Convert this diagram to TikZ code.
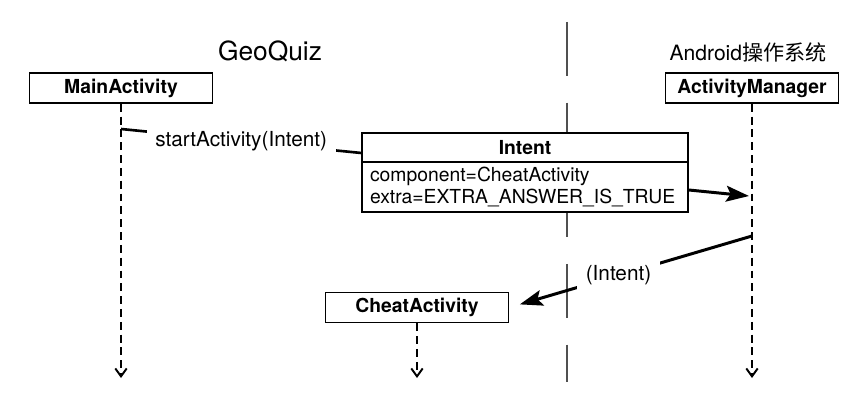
\documentclass[tikz,border=0pt]{standalone}
\usepackage{fontspec}
\setmainfont{TeX Gyre Heros}
\newfontfamily\cjk{Noto Sans CJK SC}
\usepackage{tikz}
\definecolor{divgray}{RGB}{80,80,80}
\usetikzlibrary{arrows.meta}

\begin{document}
\begin{tikzpicture}[x=0.02cm, y=-0.02cm,
    box/.style={rectangle, draw=black, line width=0.9pt, fill=white,
                minimum width=3.66cm, minimum height=0.6cm, inner sep=0pt,
                font=\fontsize{11}{13}\selectfont\bfseries},
    arr/.style={-{Stealth[length=13pt, width=9pt, inset=2.5pt]}, line width=1.7pt},
    msg/.style={line width=1.5pt},
    life/.style={-{Straight Barb[length=4.5pt, width=6.5pt]}, line width=1.1pt,
                 dash pattern=on 4.5pt off 2.8pt},
    note/.style={fill=white, inner sep=5pt, font=\fontsize{11.8}{13}\selectfont},
    div/.style={draw=divgray, line width=1.4pt, dash pattern=on 30.6pt off 15.3pt}
]
    \useasboundingbox (0,0) rectangle (859,405);

    % app / system divider
    \coordinate (div-top) at (567,22);
    \coordinate (div-bot) at (567,382);
    \draw[div] (div-top) -- (div-bot);

    \node[font=\fontsize{15}{18}\selectfont] (geoquiz) at (270,51) {GeoQuiz};
    \node[font=\fontsize{12}{14}\selectfont] (android) at (748,52) {Android{\cjk 操作系统}};

    \node[box] (main)  at (121,88)    {MainActivity};
    \node[box, minimum width=3.46cm] (am) at (752,88) {ActivityManager};
    \node[box] (cheat) at (417,307.5) {CheatActivity};

    \node[box, minimum width=6.52cm, minimum height=0.58cm] (intent) at (525,147.5) {Intent};
    \node[box, minimum width=6.52cm, minimum height=1cm, text width=6.2cm,
          inner xsep=0.16cm, align=left, font=\fontsize{11}{12.5}\selectfont]
          (intentbody) at (525,187) {component=CheatActivity\\extra=EXTRA\_ANSWER\_IS\_TRUE};

    % lifelines
    \coordinate (main-end)  at (121,378);
    \coordinate (am-end)    at (752,378);
    \coordinate (cheat-end) at (417,378);
    \draw[life] (main.south)  -- (main-end);
    \draw[life] (am.south)    -- (am-end);
    \draw[life] (cheat.south) -- (cheat-end);

    % messages
    \coordinate (main-send) at (121,129);
    \coordinate (am-recv)   at (749,196);
    \coordinate (am-send)   at (752,236);
    \draw[msg] (main-send) -- node[note] {startActivity(Intent)} ([yshift=-0.11cm]intent.west);
    \draw[arr] ([yshift=-0.06cm]intentbody.east) -- (am-recv);
    \draw[arr, shorten >=0.22cm] (am-send) -- node[note, pos=0.55] {(Intent)} (cheat.east);
\end{tikzpicture}
\end{document}
